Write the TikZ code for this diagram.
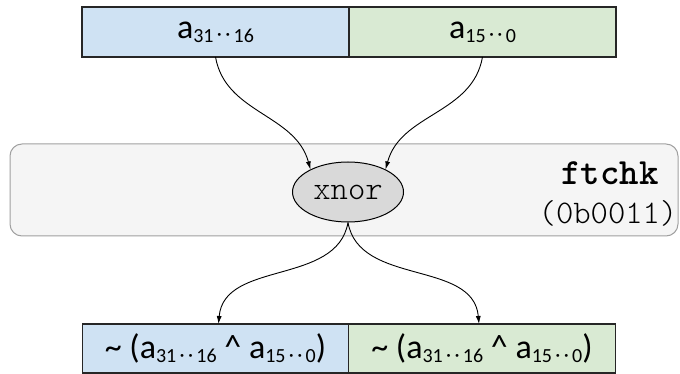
\documentclass[tikz,border=0pt]{standalone}
\usepackage{fontspec}
\setmainfont{Carlito}
\setmonofont{lmmonolt10-regular.otf}[BoldFont=lmmonolt10-bold.otf]
\usetikzlibrary{positioning,arrows.meta,shapes.geometric}
\definecolor{hiblue}{RGB}{207,226,243}
\definecolor{logreen}{RGB}{217,234,211}
\definecolor{unitfill}{RGB}{245,245,245}
\definecolor{unitedge}{RGB}{160,160,160}
\definecolor{gatefill}{RGB}{217,217,217}
\newcommand{\rng}[2]{\raisebox{-4pt}{\fontsize{20}{20}\selectfont #1\,\raisebox{1.5pt}{·}\,\raisebox{1.5pt}{·}\,#2}}
\newcommand{\xnorof}{\textasciitilde{} (a\rng{31}{16} \textasciicircum{} a\rng{15}{0})}

\begin{document}
\begin{tikzpicture}[x=1pt,y=1pt,
    half/.style={draw=black!85,line width=1.3pt,minimum width=267pt,minimum height=50pt,
      inner sep=0pt,outer sep=0pt,font=\fontsize{34}{38}\selectfont},
    wire/.style={-{Latex[length=8pt,width=5pt]},line width=0.9pt}]
  \useasboundingbox (0,0) rectangle (680,-374);
  % functional unit
  \node[draw=unitedge,fill=unitfill,rounded corners=12pt,line width=1pt,
    minimum width=668pt,minimum height=92pt] (unit) at (344,-190) {};
  \node[font=\ttfamily\bfseries\fontsize{37}{40}\selectfont] (name) at (610,-173) {ftchk};
  \node[font=\ttfamily\fontsize{33}{36}\selectfont] (code) at (608,-213) {(0b0011)};
  \node[ellipse,draw,fill=gatefill,line width=1pt,minimum width=111pt,minimum height=60pt,
    inner sep=0pt,font=\ttfamily\fontsize{33}{36}\selectfont] (xnor) at (348,-192) {xnor};
  % operand halves
  \node[half,fill=hiblue] (hi) at (215.5,-32) {a\rng{31}{16}};
  \node[half,fill=logreen,right=0pt of hi] (lo) {a\rng{15}{0}};
  % result halves
  \node[half,fill=hiblue,minimum height=49pt,minimum width=266.5pt] (rhi) at (215.5,-348.5) {\xnorof};
  \node[half,fill=logreen,minimum height=49pt,minimum width=266.5pt,right=0pt of rhi] (rlo) {\xnorof};
  \draw[wire] (hi.south) to[out=-80,in=105] (xnor.149);
  \draw[wire] (lo.south) to[out=-100,in=75] (xnor.31);
  \draw[wire] (xnor.south) to[out=-100,in=85] ([xshift=3pt]rhi.north);
  \draw[wire] (xnor.south) to[out=-80,in=95] ([xshift=-3pt]rlo.north);
\end{tikzpicture}
\end{document}
